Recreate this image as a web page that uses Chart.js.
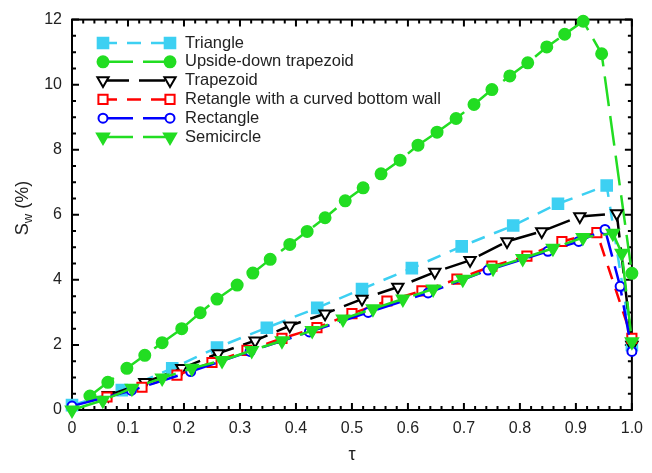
<!DOCTYPE html>
<html>
<head>
<meta charset="utf-8">
<script src="https://cdn.jsdelivr.net/npm/chart.js@4.4.1/dist/chart.umd.min.js"></script>
<style>
  html, body { margin: 0; padding: 0; background: #fff; }
  canvas { display: block; }
</style>
</head>
<body>
<canvas id="swGraph" width="652" height="473"></canvas>
<script>
// tau values and S_w (%), one pair of arrays per shape
const triangleTau = [0, 0.089, 0.179, 0.259, 0.348, 0.438, 0.518, 0.607, 0.696, 0.788, 0.868, 0.955, 1.0];
const triangleSw  = [0.15, 0.61, 1.28, 1.92, 2.53, 3.14, 3.72, 4.36, 5.03, 5.67, 6.34, 6.9, 2.0];

const upsideTau = [0.032, 0.064, 0.098, 0.130, 0.161, 0.196, 0.229, 0.259, 0.295, 0.323, 0.354, 0.389, 0.420, 0.452, 0.488,
                   0.520, 0.552, 0.586, 0.618, 0.652, 0.686, 0.718, 0.750, 0.782, 0.814, 0.848, 0.880, 0.913, 0.946, 1.0];
const upsideSw  = [0.43, 0.85, 1.28, 1.68, 2.07, 2.50, 2.99, 3.41, 3.84, 4.21, 4.63, 5.09, 5.49, 5.91, 6.43,
                   6.83, 7.26, 7.68, 8.14, 8.54, 8.96, 9.39, 9.85, 10.27, 10.67, 11.16, 11.55, 11.95, 10.95, 4.2];

const trapezoidTau = [0.065, 0.130, 0.196, 0.261, 0.327, 0.389, 0.452, 0.518, 0.582, 0.648, 0.711, 0.777, 0.839, 0.907, 0.973, 1.0];
const trapezoidSw  = [0.45, 0.85, 1.28, 1.74, 2.13, 2.59, 2.96, 3.41, 3.78, 4.24, 4.60, 5.18, 5.49, 5.95, 6.04, 2.0];

const curvedTau = [0.0625, 0.125, 0.1875, 0.25, 0.3125, 0.375, 0.4375, 0.5, 0.5625, 0.625, 0.6875, 0.75, 0.8125, 0.875, 0.9375, 1.0];
const curvedSw  = [0.40, 0.70, 1.07, 1.46, 1.83, 2.20, 2.53, 2.96, 3.35, 3.66, 4.02, 4.42, 4.73, 5.18, 5.45, 2.2];

const rectangleTau = [0, 0.106, 0.212, 0.318, 0.424, 0.529, 0.636, 0.743, 0.85, 0.905, 0.952, 0.979, 1.0];
const rectangleSw  = [0.12, 0.6, 1.18, 1.8, 2.4, 3.0, 3.6, 4.3, 4.88, 5.18, 5.55, 3.8, 1.8];

const semiTau = [0, 0.055, 0.107, 0.161, 0.214, 0.268, 0.321, 0.375, 0.429, 0.484, 0.5375, 0.591, 0.645, 0.698,
                 0.752, 0.805, 0.859, 0.9125, 0.966, 0.982, 1.0];
const semiSw  = [0, 0.30, 0.67, 0.98, 1.28, 1.52, 1.83, 2.13, 2.44, 2.80, 3.11, 3.41, 3.72, 4.02,
                 4.36, 4.66, 4.97, 5.3, 5.43, 4.82, 2.1];

const xTicks = [0, 0.1, 0.2, 0.3, 0.4, 0.5, 0.6, 0.7, 0.8, 0.9, 1.0];
const yTicks = [0, 2, 4, 6, 8, 10, 12];

const pairs = (xs, ys) => xs.map((x, i) => ({ x: x, y: ys[i] }));

const FONT = "'Liberation Sans', Arial, sans-serif";
const CYAN = '#3DD0F2';
const GREEN = '#22DD22';

const series = [
    { label: 'Triangle', data: pairs(triangleTau, triangleSw), color: CYAN, fill: CYAN,
      pointStyle: 'rect', radius: 7.5, rotation: 0, dash: [14, 10], order: 5 },
    { label: 'Upside-down trapezoid', data: pairs(upsideTau, upsideSw), color: GREEN, fill: GREEN,
      pointStyle: 'circle', radius: 5.5, rotation: 0, dash: [30, 10], order: 4 },
    { label: 'Trapezoid', data: pairs(trapezoidTau, trapezoidSw), color: '#000', fill: '#fff',
      pointStyle: 'triangle', radius: 6.5, rotation: 180, dash: [26, 10], order: 3 },
    { label: 'Retangle with a curved bottom wall', data: pairs(curvedTau, curvedSw), color: '#FF0000', fill: '#fff',
      pointStyle: 'rect', radius: 6.5, rotation: 0, dash: [14, 10], order: 2 },
    { label: 'Rectangle', data: pairs(rectangleTau, rectangleSw), color: '#0000FF', fill: '#fff',
      pointStyle: 'circle', radius: 4.5, rotation: 0, dash: [30, 10], order: 1 },
    { label: 'Semicircle', data: pairs(semiTau, semiSw), color: GREEN, fill: GREEN,
      pointStyle: 'triangle', radius: 7, rotation: 180, dash: [30, 10], order: 0 }
];

// box, inward ticks on all four sides, axis titles and the in-plot legend
const decorations = {
    id: 'decorations',
    beforeDatasetsDraw(chart) {
        const { ctx, chartArea: a, scales: { x, y } } = chart;
        ctx.save();
        ctx.strokeStyle = '#000';
        ctx.lineWidth = 2;
        ctx.setLineDash([]);
        ctx.beginPath();
        for (let i = 0; i <= 50; i++) {
            const px = x.getPixelForValue(i / 50);
            const len = i % 5 === 0 ? 7 : 4;
            ctx.moveTo(px, a.bottom); ctx.lineTo(px, a.bottom - len);
            ctx.moveTo(px, a.top); ctx.lineTo(px, a.top + len);
        }
        for (let i = 0; i <= 24; i++) {
            const py = y.getPixelForValue(i * 0.5);
            const len = i % 4 === 0 ? 7 : 4;
            ctx.moveTo(a.left, py); ctx.lineTo(a.left + len, py);
            ctx.moveTo(a.right, py); ctx.lineTo(a.right - len, py);
        }
        ctx.stroke();
        ctx.strokeRect(a.left, a.top, a.right - a.left, a.bottom - a.top);
        ctx.restore();
    },
    afterDraw(chart) {
        const { ctx, chartArea: a } = chart;
        ctx.save();
        ctx.fillStyle = '#222';
        // x title
        ctx.font = '18px ' + FONT;
        ctx.textAlign = 'center';
        ctx.textBaseline = 'middle';
        ctx.fillText('\u03C4', (a.left + a.right) / 2, 455);
        // y title, S with subscript w
        ctx.translate(23, 208);
        ctx.rotate(-Math.PI / 2);
        ctx.textAlign = 'left';
        ctx.font = '18px ' + FONT;
        const sW = ctx.measureText('S').width;
        const restW = ctx.measureText(' (%)').width;
        ctx.font = '13px ' + FONT;
        const wW = ctx.measureText('w').width;
        let tx = -(sW + wW + restW) / 2;
        ctx.font = '18px ' + FONT;
        ctx.fillText('S', tx, 0);
        ctx.font = '13px ' + FONT;
        ctx.fillText('w', tx + sW, 5);
        ctx.font = '18px ' + FONT;
        ctx.fillText(' (%)', tx + sW + wW, 0);
        ctx.restore();

        // legend
        ctx.save();
        const x1 = 103, x2 = 170, textX = 185;
        series.forEach((s, i) => {
            const ly = 43 + i * 18.8;
            ctx.strokeStyle = s.color;
            ctx.lineWidth = 2.5;
            ctx.setLineDash(s.dash);
            ctx.beginPath();
            ctx.moveTo(x1, ly); ctx.lineTo(x2, ly);
            ctx.stroke();
            ctx.setLineDash([]);
            ctx.fillStyle = s.fill;
            ctx.lineWidth = 2;
            [x1, x2].forEach(px => Chart.helpers.drawPoint(ctx,
                { pointStyle: s.pointStyle, radius: s.radius, rotation: s.rotation, borderWidth: 2 }, px, ly));
            ctx.fillStyle = '#222';
            ctx.font = '16.5px ' + FONT;
            ctx.textAlign = 'left';
            ctx.textBaseline = 'middle';
            ctx.fillText(s.label, textX, ly);
        });
        ctx.restore();
    }
};

const ctx = document.getElementById('swGraph').getContext('2d');

new Chart(ctx, {
    type: 'scatter',
    data: {
        datasets: series.map(s => ({
            label: s.label,
            data: s.data,
            showLine: true,
            borderColor: s.color,
            borderWidth: 2.5,
            borderDash: s.dash,
            backgroundColor: s.fill,
            pointStyle: s.pointStyle,
            pointRadius: s.radius,
            pointRotation: s.rotation,
            pointBorderWidth: 2,
            pointBorderColor: s.color,
            pointBackgroundColor: s.fill,
            order: s.order,
            clip: 10
        }))
    },
    options: {
        responsive: false,
        animation: false,
        devicePixelRatio: 1,
        layout: { padding: { top: 16, right: 20, left: 0, bottom: 0 } },
        scales: {
            x: {
                type: 'linear',
                min: 0, max: 1,
                afterBuildTicks: scale => { scale.ticks = xTicks.map(v => ({ value: v })); },
                afterFit: scale => { scale.height = 63; },
                ticks: {
                    callback: v => (v === 0 ? '0' : v.toFixed(1)),
                    color: '#222',
                    font: { family: FONT, size: 16 },
                    padding: 9,
                    maxRotation: 0
                },
                grid: { display: false, drawTicks: false },
                border: { display: false }
            },
            y: {
                min: 0, max: 12,
                afterBuildTicks: scale => { scale.ticks = yTicks.map(v => ({ value: v })); },
                afterFit: scale => { scale.width = 72; },
                ticks: {
                    color: '#222',
                    font: { family: FONT, size: 16 },
                    padding: 10
                },
                grid: { display: false, drawTicks: false },
                border: { display: false }
            }
        },
        plugins: {
            legend: { display: false },
            tooltip: { enabled: false }
        }
    },
    plugins: [decorations]
});
</script>
</body>
</html>
